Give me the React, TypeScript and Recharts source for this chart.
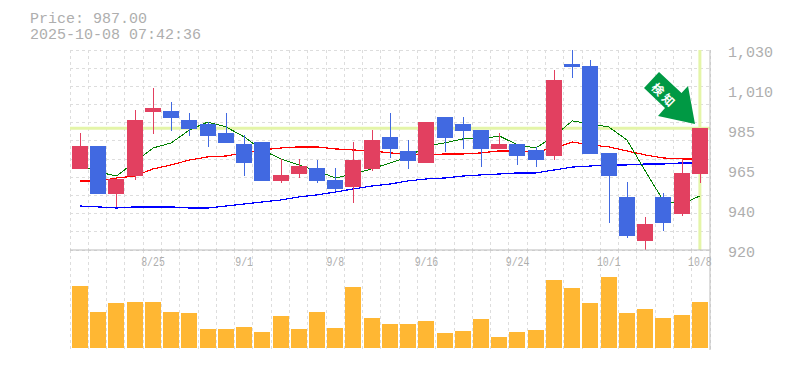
import {
  ComposedChart, Bar, Line, XAxis, YAxis, CartesianGrid, ReferenceLine,
} from 'recharts';

// ─── Data ───────────────────────────────────────────────────
const dates = [
  '8/19', '8/20', '8/21', '8/22', '8/25', '8/26', '8/27', '8/28', '8/29', '9/1',
  '9/2', '9/3', '9/4', '9/5', '9/8', '9/9', '9/10', '9/11', '9/12', '9/16',
  '9/17', '9/18', '9/19', '9/22', '9/24', '9/25', '9/26', '9/29', '9/30', '10/1',
  '10/2', '10/3', '10/6', '10/7', '10/8',
];
const opens = [
  964.6, 977.2, 950.8, 960.7, 995.9, 996.5, 991.5, 989.3, 984.4, 978.3,
  979.4, 958, 961.8, 965.1, 958.5, 954.7, 964.6, 982.2, 974.5, 967.9,
  993.2, 989.3, 986, 975.6, 978.3, 975, 971.7, 1022.3, 1021.2, 973.4,
  949.2, 925, 949.2, 939.8, 961.8,
];
const closes = [
  977.2, 950.8, 959.1, 991.5, 998.1, 992.6, 986.6, 982.7, 978.9, 967.9,
  958, 961.3, 966.2, 958, 953.6, 969.5, 980.5, 975.6, 969, 990.4,
  981.6, 985.5, 975.6, 978.3, 971.7, 969.5, 1013.5, 1020.7, 972.8, 960.7,
  927.7, 934.3, 934.9, 962.4, 987,
];
const highs = [
  984.4, 977.2, 959.1, 997, 1009.1, 1001.4, 995.4, 990.4, 995.4, 983.3,
  979.4, 970.1, 970.1, 969.5, 965.1, 979.4, 986, 995.4, 980.5, 990.4,
  993.2, 993.2, 986, 984.4, 978.3, 976.7, 1019, 1030, 1024.5, 973.4,
  957.4, 938.2, 951.4, 970.1, 987,
];
const lows = [
  964.6, 950.8, 943.7, 958.5, 983.8, 985.5, 982.7, 976.7, 978.9, 960.7,
  958, 956.9, 959.6, 956.9, 952.5, 945.9, 963.5, 970.6, 964.6, 967.9,
  973.9, 975.6, 965.7, 975.6, 966.8, 965.7, 969.5, 1014.6, 972.8, 934.9,
  926.6, 920, 930.5, 938.7, 956.9,
];
const maShort = [
  966.8, 962.9, 960.7, 968.4, 976.1, 978.9, 986, 990.4, 987.7, 982.2,
  975, 970.1, 966.8, 963.5, 959.6, 961.8, 964.6, 967.9, 971.2, 977.2,
  978.9, 981.1, 981.1, 982.7, 977.8, 976.1, 982.7, 991, 989.3, 987.7,
  980.5, 963.5, 947, 945.3, 949.7,
];
const maMid = [
  958, 958, 959.6, 960.7, 964.6, 966.8, 969.5, 971.2, 971.7, 973.4,
  975, 976.1, 976.7, 976.7, 975.6, 975, 974.5, 973.4, 972.8, 972.3,
  972.8, 972.8, 973.4, 974.5, 974.5, 973.9, 976.1, 979.4, 977.8, 976.7,
  974.5, 972.3, 970.6, 970.1, 970.1,
];
const maLong = [
  944.2, 943.7, 943.1, 943.7, 943.7, 943.7, 943.1, 943.1, 944.2, 945.3,
  946.4, 947.5, 949.2, 950.3, 951.9, 953.6, 955.2, 956.3, 958, 959.1,
  959.6, 960.7, 961.3, 961.8, 962.4, 962.4, 964, 965.6, 966.2, 966.8,
  966.8, 967.3, 967.3, 967.9, 967.9,
];
const volumes = [
  186, 108, 135, 138, 138, 108, 105, 57, 57, 63,
  48, 96, 57, 108, 60, 183, 90, 72, 72, 81,
  45, 51, 87, 33, 48, 54, 204, 180, 135, 213,
  105, 117, 90, 99, 138,
];
const priceTicks = [1030, 1008, 986, 964, 942, 920];
const priceLabels = ['1,030', '1,010', '985', '965', '940', '920'];
const gridPrices = [1030, 1020, 1010, 1000, 990, 980, 970, 960, 950, 940, 930, 920];
const dateTicks = ['8/25', '9/1', '9/8', '9/16', '9/24', '10/1', '10/8'];
const lastPrice = 987;

const candles = dates.map((date, i) => ({
  date,
  open: opens[i],
  close: closes[i],
  high: highs[i],
  low: lows[i],
  range: [lows[i], highs[i]],
  maShort: maShort[i],
  maMid: maMid[i],
  maLong: maLong[i],
}));
const volumeRows = dates.map((date, i) => ({ date, volume: volumes[i] }));

const MONO = '"Liberation Mono", monospace';
const GREY = '#bbbbbb';
const TEXT = '#aeaeae';
const GRID = '#dddddd';
const UP = '#e24060';
const DOWN = '#4169e1';

// vertical grid sits on the day boundaries, same in both panels
const dayBoundaries = ({ offset }: any) =>
  dates.map((_, i) => offset.left + (i * offset.width) / dates.length).concat(offset.left + offset.width);

// ─── Candle: the bar spans low..high, the body is placed inside it ──
function Candle({ x, y, width, height, payload }: any) {
  const { open, close, high, low } = payload;
  const perUnit = height / (high - low);
  const top = y + (high - Math.max(open, close)) * perUnit;
  const bodyH = Math.abs(close - open) * perUnit;
  const color = close >= open ? UP : DOWN;
  const mid = Math.round(x + width / 2);
  return (
    <g shapeRendering="crispEdges">
      <rect x={mid - 0.5} y={y} width={1} height={height} fill={color} />
      <rect x={x} y={top} width={width} height={Math.max(bodyH, 2)} fill={color} />
    </g>
  );
}

function PriceTick({ x, y, index }: any) {
  return (
    <text x={x + 10} y={y + 7} fontFamily={MONO} fontSize={15} fill={TEXT}>
      {priceLabels[index]}
    </text>
  );
}

function DateTick({ x, y, payload }: any) {
  return (
    <text
      x={x}
      y={y + 8}
      textAnchor="middle"
      textLength={payload.value.length * 5.9}
      lengthAdjust="spacingAndGlyphs"
      fontFamily={MONO}
      fontSize={12}
      fill={TEXT}
    >
      {payload.value}
    </text>
  );
}

export default function App() {
  return (
    <div style={{ position: 'absolute', left: 0, top: 0, width: 785, height: 370, background: '#fff' }}>
      <div style={{ position: 'absolute', left: 30, top: 12, fontFamily: MONO, fontSize: 15, lineHeight: '16px', color: TEXT, whiteSpace: 'pre' }}>
        <div>Price: 987.00</div>
        <div>2025-10-08 07:42:36</div>
      </div>

      {/* volume panel */}
      <div style={{ position: 'absolute', left: 0, top: 250 }}>
        <ComposedChart width={785} height={101} data={volumeRows} margin={{ top: 0, left: 70, right: 0, bottom: 1 }} barCategoryGap={0}>
          <CartesianGrid strokeDasharray="3 3" stroke={GRID} horizontal={false} verticalCoordinatesGenerator={dayBoundaries} shapeRendering="crispEdges" />
          <XAxis dataKey="date" height={0} tick={false} tickLine={false} stroke={GREY} padding={{ left: 1, right: 1 }} />
          <YAxis orientation="right" width={75} domain={[-6, 294]} tick={false} tickLine={false} stroke={GREY} />
          <Bar dataKey="volume" barSize={16} fill="#ffb733" isAnimationActive={false} shapeRendering="crispEdges" />
        </ComposedChart>
      </div>

      {/* price panel */}
      <div style={{ position: 'absolute', left: 0, top: 0 }}>
        <ComposedChart width={785} height={280} data={candles} margin={{ top: 50, left: 70, right: 0, bottom: 0 }}>
          <CartesianGrid strokeDasharray="3 3" stroke={GRID} horizontalValues={gridPrices} verticalCoordinatesGenerator={dayBoundaries} shapeRendering="crispEdges" />
          <XAxis
            dataKey="date"
            height={30}
            interval={0}
            ticks={dateTicks}
            tick={<DateTick />}
            tickLine={false}
            stroke={GREY}
            padding={{ left: 1, right: 1 }}
          />
          <YAxis
            orientation="right"
            width={75}
            domain={[920, 1030]}
            ticks={priceTicks}
            interval={0}
            tick={<PriceTick />}
            tickLine={false}
            stroke={GREY}
            allowDataOverflow
          />
          <ReferenceLine y={lastPrice} stroke="#e4f5a8" strokeWidth={3} zIndex={100} />
          <ReferenceLine x="10/8" stroke="#e4f5a8" strokeWidth={3} zIndex={100} />
          <Line dataKey="maLong" stroke="#0000ff" strokeWidth={1.2} dot={false} activeDot={false} isAnimationActive={false} zIndex={200} shapeRendering="crispEdges" />
          <Line dataKey="maMid" stroke="#ff0000" strokeWidth={1.2} dot={false} activeDot={false} isAnimationActive={false} zIndex={200} shapeRendering="crispEdges" />
          <Line dataKey="maShort" stroke="#008000" strokeWidth={1} dot={false} activeDot={false} isAnimationActive={false} zIndex={200} shapeRendering="crispEdges" />
          <Bar dataKey="range" barSize={16} shape={<Candle />} isAnimationActive={false} zIndex={300} />
        </ComposedChart>
      </div>

      {/* signal arrow */}
      <svg width={785} height={370} style={{ position: 'absolute', left: 0, top: 0, pointerEvents: 'none' }}>
        <polygon points="659,72 681.5,93 688,86 695,124 658,116 665,108 644,88" fill="#009944" />
        <text
          x={665}
          y={95}
          transform="rotate(45 665 95)"
          textAnchor="middle"
          dominantBaseline="central"
          fontFamily='"Noto Sans CJK JP"'
          fontWeight={700}
          fontSize={12}
          letterSpacing={3}
          fill="#fff"
        >
          検知
        </text>
      </svg>
    </div>
  );
}
